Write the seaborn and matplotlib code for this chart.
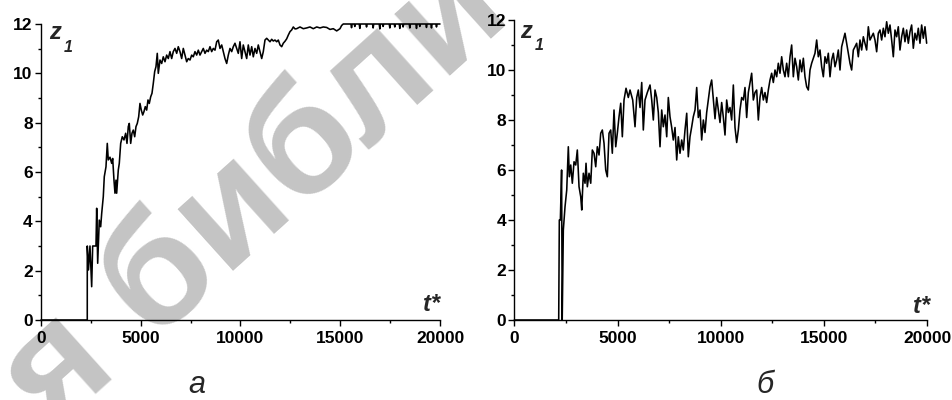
import matplotlib
matplotlib.use("Agg")
import matplotlib.pyplot as plt
import seaborn as sns
from matplotlib.ticker import MultipleLocator

# ---------------- data ----------------
# panel "а"
t_a_rise = [0, 2320, 2321, 2381, 2456, 2541, 2591, 2672, 2757, 2792,
            2842, 2922, 2992, 3043, 3123, 3173, 3258, 3323, 3373, 3459,
            3544, 3594, 3659, 3709, 3759, 3794, 3875, 3925, 3995, 4075,
            4160, 4245, 4311, 4376, 4426, 4496, 4561, 4627, 4697, 4762,
            4827, 4897, 4962, 5028, 5098, 5163, 5228, 5298, 5363, 5429,
            5499, 5564, 5629, 5699, 5764, 5829, 5880]
z_a_rise = [0, 0, 3.0, 2.03, 3.0, 1.35, 3.0, 3.0, 3.0, 4.53,
            2.3, 4.05, 3.78, 4.32, 5.0, 5.81, 6.21, 7.16, 6.49, 6.6,
            6.35, 6.55, 5.67, 5.14, 5.67, 5.14, 6.08, 6.35, 7.16, 7.43,
            7.3, 7.57, 7.16, 7.84, 7.97, 7.16, 7.57, 7.7, 7.43, 7.84,
            7.97, 8.24, 8.78, 8.51, 8.31, 8.45, 8.65, 8.51, 8.92, 8.78,
            9.05, 9.19, 9.59, 10.07, 10.27, 10.81, 10.0]

t_a_plateau = [5965, 6050, 6130, 6216, 6300, 6381, 6466, 6551, 6631, 6717,
               6802, 6882, 6967, 7052, 7133, 7218, 7303, 7383, 7469, 7554,
               7634, 7719, 7804, 7885, 7970, 8055, 8135, 8221, 8306, 8386,
               8471, 8556, 8637, 8722, 8807, 8887, 8972, 9058, 9138, 9223,
               9308, 9389, 9474, 9559, 9639, 9724, 9809, 9890, 9975, 10060,
               10140, 10226, 10311, 10391, 10476, 10562, 10642, 10727, 10812, 10892,
               10977, 11063, 11143, 11228, 11313, 11394, 11479, 11564, 11644, 11729,
               11815, 11895, 11980, 12065, 12145, 12231, 12316]
z_a_plateau = [10.54, 10.4, 10.67, 10.47, 10.74, 10.6, 10.88, 10.6, 10.88, 11.01,
               10.81, 11.08, 10.88, 10.6, 11.01, 10.74, 10.47, 10.6, 10.54, 10.74,
               10.67, 10.88, 10.74, 10.94, 10.74, 10.88, 11.01, 10.81, 10.94, 10.88,
               11.08, 10.88, 11.01, 10.94, 11.28, 11.35, 11.01, 11.15, 10.88, 10.6,
               10.4, 10.74, 11.01, 10.88, 11.08, 11.22, 11.01, 10.81, 11.28, 10.6,
               11.15, 10.88, 10.6, 11.15, 10.74, 11.08, 10.67, 11.01, 10.81, 11.15,
               10.88, 10.6, 10.88, 11.35, 11.42, 11.35, 11.28, 11.38, 11.31, 11.35,
               11.28, 11.35, 11.15, 11.08, 11.22, 11.3, 11.4]

t_a_high = [12396, 12481, 12566, 12647, 12732, 12817, 12982, 13148, 13318, 13483,
            13649, 13820, 13985, 14150, 14320, 14486, 14651, 14822, 14987, 15070,
            15150]
z_a_high = [11.55, 11.69, 11.76, 11.88, 11.8, 11.81, 11.88, 11.81, 11.84, 11.88,
            11.81, 11.88, 11.84, 11.88, 11.86, 11.78, 11.81, 11.72, 11.81, 11.94,
            12.0]

t_a_top = [15536, 15566, 15596, 15701, 15731, 15761, 15951, 15981, 16011,
           16288, 16318, 16348, 16619, 16649, 16679, 16953, 16983, 17013,
           17119, 17149, 17179, 17455, 17485, 17515, 17705, 17735, 17765,
           17956, 17986, 18016, 18121, 18151, 18181, 18457, 18487, 18517,
           18792, 18822, 18852, 18958, 18988, 19018, 19292, 19322, 19352,
           19543, 19573, 19603, 19794, 19824, 19854, 20000]
z_a_top = [12, 11.85, 12, 12, 11.9, 12, 12, 11.82, 12,
           12, 11.88, 12, 12, 11.84, 12, 12, 11.8, 12,
           12, 11.9, 12, 12, 11.84, 12, 12, 11.88, 12,
           12, 11.82, 12, 12, 11.88, 12, 12, 11.84, 12,
           12, 11.82, 12, 12, 11.9, 12, 12, 11.86, 12,
           12, 11.84, 12, 12, 11.88, 12, 12]

# panel "б"
t_b_early = [0, 2150, 2180, 2230, 2290, 2320, 2350, 2374, 2456, 2539,
             2616, 2665, 2733, 2810, 2893, 2975, 3052, 3135, 3217, 3266,
             3343, 3425, 3474, 3537, 3619, 3702, 3779, 3861, 3944, 4021,
             4104, 4186, 4264, 4346, 4428, 4506, 4588, 4671, 4748, 4830,
             4913, 4990, 5073, 5155, 5233, 5315, 5412, 5523, 5606, 5736,
             5848, 5930, 6008, 6090, 6173, 6250, 6332, 6444, 6575, 6657,
             6735, 6817, 6899, 6977, 7059, 7141, 7219, 7301, 7384, 7461,
             7543, 7626, 7703, 7786, 7868, 7946, 8028, 8110, 8188, 8270,
             8353, 8430, 8512, 8595, 8672, 8755, 8837, 8915]
z_b_early = [0, 0, 4.0, 4.0, 6.0, 0.0, 2.0, 3.6, 4.53, 5.2,
             6.93, 5.73, 6.2, 5.47, 6.33, 6.2, 6.8, 5.33, 4.93, 4.4,
             5.87, 5.47, 6.27, 5.33, 5.87, 5.47, 6.8, 6.67, 6.13, 6.93,
             6.6, 7.47, 7.6, 7.07, 6.0, 5.73, 7.47, 7.6, 6.67, 8.4,
             6.93, 7.47, 8.13, 8.67, 7.33, 8.8, 9.27, 8.9, 9.2, 8.8,
             7.73, 8.9, 9.2, 8.5, 9.5, 7.6, 8.8, 9.1, 9.4, 8.8,
             8.0, 9.2, 8.9, 8.3, 6.93, 8.4, 7.73, 8.2, 7.33, 8.9,
             8.13, 7.7, 7.2, 7.7, 6.4, 7.33, 6.67, 7.2, 6.8, 7.6,
             8.27, 6.53, 7.33, 7.73, 8.13, 8.4, 9.3, 8.1]

t_b_late = [8997, 9078, 9159, 9239, 9320, 9401, 9482, 9562, 9643, 9724,
            9805, 9885, 9966, 10047, 10128, 10208, 10289, 10370, 10451, 10531,
            10612, 10693, 10774, 10854, 10935, 11016, 11097, 11177, 11258, 11339,
            11420, 11500, 11581, 11662, 11743, 11823, 11904, 11985, 12066, 12146,
            12227, 12308, 12389, 12469, 12550, 12631, 12712, 12792, 12873, 12954,
            13035, 13115, 13196, 13277, 13358, 13438, 13519, 13600, 13681, 13761,
            13842, 13923, 14004, 14084, 14165, 14246, 14327, 14407, 14488, 14569,
            14650, 14730, 14811, 14892, 14973, 15053, 15134, 15215, 15296, 15376,
            15457, 15538, 15619, 15699, 15780, 15861, 15942, 16022, 16103, 16184,
            16265, 16345, 16426, 16507, 16588, 16668, 16749, 16830, 16911, 16991,
            17072, 17153, 17234, 17314, 17395, 17476, 17557, 17637, 17718, 17799,
            17880, 17960, 18041, 18122, 18203, 18283, 18364, 18445, 18526, 18606,
            18687, 18768, 18849, 18929, 19010, 19091, 19172, 19252, 19333, 19414,
            19495, 19575, 19656, 19737, 19818, 19898, 19979]
z_b_late = [8.4, 7.2, 8.0, 7.5, 8.3, 8.8, 9.33, 9.6, 8.8, 8.05,
            8.9, 8.4, 7.9, 8.7, 8.1, 7.4, 8.8, 8.3, 8.5, 8.0,
            9.4, 7.7, 7.1, 7.6, 8.4, 8.9, 8.8, 9.3, 8.1, 9.1,
            9.5, 9.87, 8.8, 9.1, 9.2, 8.0, 8.9, 9.3, 8.8, 9.1,
            8.7, 9.2, 9.6, 9.87, 9.5, 10.0, 9.73, 10.27, 9.87, 10.53,
            10.0, 9.73, 10.27, 9.73, 10.53, 11.0, 9.73, 10.47, 10.13, 9.6,
            10.4, 9.93, 10.47, 9.73, 9.33, 9.2, 10.0, 10.27, 10.47, 10.67,
            11.2, 10.53, 10.8, 10.13, 9.73, 10.53, 10.27, 10.67, 9.73, 10.4,
            10.67, 10.13, 10.4, 10.8, 10.0, 10.93, 11.2, 11.47, 11.07, 10.67,
            10.27, 10.0, 10.8, 10.93, 11.07, 10.53, 11.2, 10.8, 11.33, 11.07,
            10.8, 11.73, 11.2, 11.33, 11.47, 11.2, 10.73, 11.47, 11.6, 11.2,
            11.67, 11.33, 11.93, 11.47, 11.8, 11.2, 10.53, 11.6, 11.33, 11.73,
            10.8, 11.33, 11.67, 11.13, 11.6, 11.07, 11.53, 11.8, 10.87, 11.47,
            11.2, 11.67, 11.07, 11.8, 11.27, 11.73, 11.07]

x_ticks = [0, 5000, 10000, 15000, 20000]
x_tick_labels = ["0", "5000", "10000", "15000", "20000"]
y_ticks = [0, 2, 4, 6, 8, 10, 12]
y_tick_labels = ["0", "2", "4", "6", "8", "10", "12"]
panel_labels = ["а", "б"]
watermark = "я библиотека"

t_a = t_a_rise + t_a_plateau + t_a_high + t_a_top
z_a = z_a_rise + z_a_plateau + z_a_high + z_a_top
t_b = t_b_early + t_b_late
z_b = z_b_early + z_b_late

# ---------------- figure ----------------
sns.set_style("ticks")
plt.rcParams["font.family"] = ["Liberation Sans", "DejaVu Sans"]

fig = plt.figure(figsize=(9.53, 4.0), dpi=100)
fig.patch.set_facecolor("white")

# background watermark
fig.text(52 / 953, 1 - 435 / 400, watermark, rotation=42, rotation_mode="anchor",
         ha="left", va="baseline", fontsize=114, fontweight="bold",
         color="#c4c4c4", zorder=-1)

ax_a = fig.add_axes([0.0430, 0.2, 0.4187, 0.74])
ax_b = fig.add_axes([0.5397, 0.2, 0.4331, 0.75])

for ax, t, z in [(ax_a, t_a, z_a), (ax_b, t_b, z_b)]:
    ax.set_facecolor("none")
    sns.lineplot(x=t, y=z, ax=ax, color="black", linewidth=1.15,
                 estimator=None, sort=False)
    for ln in ax.lines:
        ln.set_clip_on(False)
    ax.set_xlim(0, 20000)
    ax.set_ylim(0, 12)
    ax.set_xticks(x_ticks)
    ax.set_xticklabels(x_tick_labels, fontweight="bold", fontsize=12.5)
    ax.set_yticks(y_ticks)
    ax.set_yticklabels(y_tick_labels, fontweight="bold", fontsize=12.5)
    ax.xaxis.set_minor_locator(MultipleLocator(2500))
    ax.yaxis.set_minor_locator(MultipleLocator(1))
    ax.set_xlabel("")
    ax.set_ylabel("")
    for s in ["top", "right"]:
        ax.spines[s].set_visible(False)
    for s in ["left", "bottom"]:
        ax.spines[s].set_linewidth(1.0)
        ax.spines[s].set_color("black")
    ax.tick_params(which="major", direction="out", length=4, width=1.0, colors="black")
    ax.tick_params(which="minor", direction="out", length=2.5, width=1.0, colors="black")
    ax.tick_params(axis="x", which="major", pad=4)
    ax.tick_params(axis="y", which="major", pad=2)

# axis captions
ax_a.text(0.020, 0.949, "z", transform=ax_a.transAxes, ha="left", va="baseline",
          fontsize=17, fontweight="bold", fontstyle="italic")
ax_a.text(0.058, 0.905, "1", transform=ax_a.transAxes, ha="left", va="baseline",
          fontsize=11.5, fontweight="bold", fontstyle="italic")
ax_b.text(0.014, 0.939, "z", transform=ax_b.transAxes, ha="left", va="baseline",
          fontsize=17, fontweight="bold", fontstyle="italic")
ax_b.text(0.050, 0.900, "1", transform=ax_b.transAxes, ha="left", va="baseline",
          fontsize=11.5, fontweight="bold", fontstyle="italic")
ax_a.text(1.0, 0.031, "t*", transform=ax_a.transAxes, ha="right", va="baseline",
          fontsize=17, fontweight="bold", fontstyle="italic")
ax_b.text(1.007, 0.022, "t*", transform=ax_b.transAxes, ha="right", va="baseline",
          fontsize=17, fontweight="bold", fontstyle="italic")

fig.text(197 / 953, 0.0, panel_labels[0], ha="center", va="bottom",
         fontsize=22, fontstyle="italic")
fig.text(765 / 953, 0.0, panel_labels[1], ha="center", va="bottom",
         fontsize=22, fontstyle="italic")

fig.savefig("out.png", dpi=100, facecolor="white")
